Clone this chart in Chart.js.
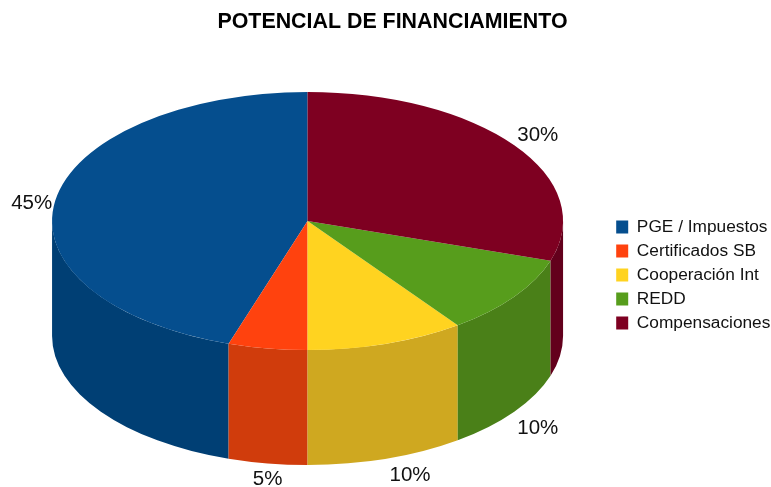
<!DOCTYPE html>
<html>
<head>
<meta charset="utf-8">
<title>Potencial de financiamiento</title>
<script src="https://cdn.jsdelivr.net/npm/chart.js@4/dist/chart.umd.min.js"></script>
<style>
  html, body { margin: 0; padding: 0; background: #fff; }
  canvas { display: block; }
</style>
</head>
<body>
<canvas id="myChart" width="771" height="487"></canvas>
<script>
'use strict';

const chartTitle = 'POTENCIAL DE FINANCIAMIENTO';
const categories = ['PGE / Impuestos', 'Certificados SB', 'Cooperación Int', 'REDD', 'Compensaciones'];
const shares = [45, 5, 10, 10, 30];
const topColors = ['#054e8e', '#ff420e', '#ffd320', '#579d1c', '#7e0021'];
const wallColors = ['#003f74', '#d03c0c', '#cfa820', '#4a8018', '#63001c'];

const FONT = '"Liberation Sans", Arial, sans-serif';
const pieWidth = 255.5;   // half width of the squashed pie on screen
const wallDepth = 115;

function stretch(arc) {
  return pieWidth / arc.outerRadius;
}

// the pie is drawn mirrored and stretched, so it runs counter clockwise like the original
const pie3d = {
  id: 'pie3d',
  beforeDatasetsDraw(chart) {
    const ctx = chart.ctx;
    const arcs = chart.getDatasetMeta(0).data;
    const first = arcs[0];
    ctx.save();
    ctx.translate(first.x, first.y);
    ctx.scale(-stretch(first), 1);
    ctx.translate(-first.x, -first.y);

    for (let i = 0; i < arcs.length; i++) {
      const start = Math.max(arcs[i].startAngle, 0);
      const end = Math.min(arcs[i].endAngle, Math.PI);
      if (end <= start) {
        continue;
      }
      ctx.beginPath();
      ctx.arc(arcs[i].x, arcs[i].y, arcs[i].outerRadius, start, end);
      ctx.arc(arcs[i].x, arcs[i].y + wallDepth, arcs[i].outerRadius, end, start, true);
      ctx.closePath();
      ctx.fillStyle = wallColors[i];
      ctx.fill();
    }
  },
  afterDatasetsDraw(chart) {
    chart.ctx.restore();
  },
  afterDraw(chart) {
    const ctx = chart.ctx;
    const arcs = chart.getDatasetMeta(0).data;
    ctx.save();
    ctx.fillStyle = '#111';
    ctx.font = '20.5px ' + FONT;
    for (let i = 0; i < arcs.length; i++) {
      const mid = (arcs[i].startAngle + arcs[i].endAngle) / 2;
      const cos = Math.cos(mid);
      const sin = Math.sin(mid);
      const x = arcs[i].x - pieWidth * cos;
      const y = arcs[i].y + arcs[i].outerRadius * sin + (sin > 0 ? wallDepth : 0);
      ctx.textAlign = Math.abs(cos) < 0.2 ? 'center' : (cos > 0 ? 'right' : 'left');
      ctx.textBaseline = Math.abs(sin) < 0.2 ? 'middle' : (sin > 0 ? 'top' : 'bottom');
      const gapX = ctx.textAlign === 'center' ? 0 : (cos > 0 ? -3 : 3);
      const gapY = ctx.textBaseline === 'middle' ? 3 : (sin > 0 ? 6 : 0);
      ctx.fillText(shares[i] + '%', x + gapX, y + gapY);
    }
    ctx.restore();
  },
  afterLayout(chart) {
    // legend and title sit off the default spots in the original
    const legend = chart.legend;
    const height = legend.bottom - legend.top;
    legend.left = 609.5;
    legend.right = 771;
    legend.top = 275 - height / 2;
    legend.bottom = legend.top + height;
    chart.titleBlock.left -= 1;
  }
};

const myChart = new Chart(document.getElementById('myChart').getContext('2d'), {
  type: 'pie',
  plugins: [pie3d],
  data: {
    labels: categories,
    datasets: [{
      data: shares,
      backgroundColor: topColors,
      borderWidth: 0,
      hoverOffset: 0,
      clip: false
    }]
  },
  options: {
    responsive: false,
    animation: false,
    layout: {
      padding: { left: 52, right: 37, top: 0, bottom: 137 }
    },
    plugins: {
      title: {
        display: true,
        text: chartTitle,
        color: '#000',
        font: { family: FONT, size: 21.4, weight: 'bold' },
        padding: { top: 9, bottom: 57.3 }
      },
      legend: {
        position: 'right',
        align: 'center',
        labels: {
          boxWidth: 12,
          boxHeight: 13,
          padding: 6.7,
          color: '#111',
          font: { family: FONT, size: 17.3 }
        }
      },
      tooltip: { enabled: false }
    }
  }
});
</script>
</body>
</html>
